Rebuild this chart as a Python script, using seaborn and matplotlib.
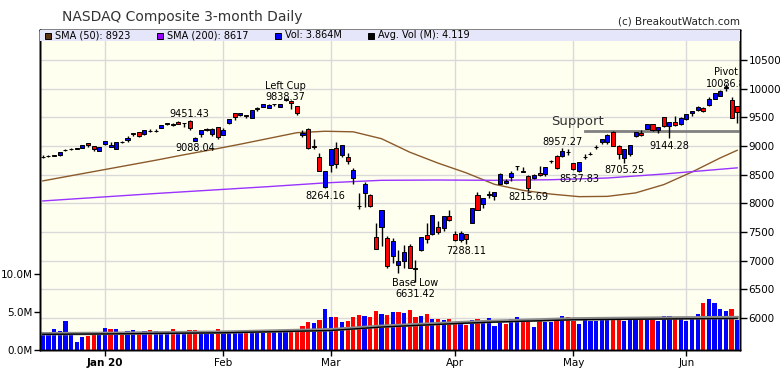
import numpy as np
import pandas as pd
import matplotlib
matplotlib.use('Agg')
import matplotlib.pyplot as plt
from matplotlib.patches import Rectangle
import seaborn as sns

# trading days shown on the chart (Dec 16 2019 - Jun 12 2020)
holidays = ['2019-12-25', '2020-01-01', '2020-01-20', '2020-02-17', '2020-04-10', '2020-05-25']
dates = pd.bdate_range('2019-12-16', '2020-06-12')
dates = dates[~dates.isin(pd.to_datetime(holidays))]

# daily OHLC of the index
opens = [8808, 8825, 8830, 8835, 8920, 8940, 8950, 8970, 9049, 9004, 8919,
         9039, 8977, 8944, 9070, 9099, 9219, 9236, 9212, 9268, 9260, 9315, 9390, 9370, 9416, 9394,
         9433, 9092, 9204, 9300, 9200, 9325,
         9187, 9405, 9575, 9538, 9532, 9484, 9661, 9684, 9660, 9725, 9679, 9797, 9788, 9701,
         9195, 9299, 9005, 8805, 8289,
         8667, 8963, 8838, 8809, 8434, 7948, 8180, 8141, 7418, 7590, 7394, 7080, 6915, 6990,
         7253, 6860, 7190, 7445, 7460, 7580, 7560, 7780,
         7460, 7360, 7460, 7660, 8140, 7980, 8145, 8120, 8340, 8350, 8460, 8650, 8545, 8480,
         8435, 8525, 8510, 8730, 8820, 8820, 8890,
         8700, 8570, 8808, 8860, 8975, 9060, 9060, 9240, 9000, 8790, 8860, 9180, 9230, 9300,
         9380, 9270, 9501, 9346, 9415, 9383,
         9470, 9580, 9633, 9658, 9704, 9823, 9867, 10012, 9792, 9701]
highs = [8833, 8837, 8848, 8887, 8950, 8956, 8957, 9023, 9052, 9006, 8973,
         9093, 9066, 9072, 9091, 9168, 9228, 9240, 9274, 9288, 9300, 9357, 9397, 9394, 9435, 9407,
         9451.43, 9161, 9277, 9317, 9304, 9331,
         9304, 9469, 9577, 9573, 9543, 9629, 9679, 9726, 9738, 9737, 9736, 9838.37, 9797, 9701,
         9280, 9319, 9124, 8880, 8567,
         8952, 9071, 9019, 8880, 8617, 8183, 8369, 8157, 7648, 7875, 7427, 7400, 7180, 7270,
         7293, 7010, 7418, 7660, 7800, 7690, 7780, 7880,
         7520, 7510, 7470, 7920, 8190, 8092, 8210, 8200, 8530, 8420, 8560, 8651, 8640, 8484,
         8512, 8650, 8640, 8760, 8833, 8957.27, 8940,
         8700, 8720, 8864, 8900, 9010, 9128, 9200, 9266, 9012, 8945, 9015, 9240, 9275, 9384,
         9390, 9325, 9505, 9413, 9523, 9505,
         9553, 9608, 9694, 9686, 9846, 9925, 9981, 10086.8, 9860, 9703]
lows = [8797, 8808, 8815, 8830, 8915, 8930, 8942, 8968, 8988, 8909, 8917,
        9010, 8972, 8943, 9043, 9070, 9166, 9150, 9182, 9235, 9240, 9305, 9361, 9340, 9383, 9326,
        9282, 9088.04, 9163, 9265, 9176, 9114,
        9186, 9384, 9454, 9513, 9486, 9484, 9611, 9678, 9655, 9696, 9676, 9790, 9651, 9536,
        9160, 8944, 8940, 8565, 8264.16,
        8551, 8606, 8800, 8680, 8340, 7896, 7943, 7941, 7194, 7263, 6880, 6955, 6780, 6880,
        6877, 6631.42, 7160, 7300, 7440, 7460, 7520, 7690,
        7340, 7330, 7288.11, 7660, 7880, 7920, 8095, 8060, 8340, 8330, 8380, 8580, 8543, 8215.69,
        8420, 8473, 8480, 8705, 8600, 8800, 8840,
        8582, 8537.83, 8780, 8834, 8950, 9040, 9040, 8995, 8763, 8705.25, 8830, 9160, 9180, 9295,
        9262, 9230, 9322, 9144.28, 9345, 9370,
        9450, 9513, 9609, 9592, 9696, 9813, 9867, 9961, 9486, 9403]
closes = [8814, 8823, 8828, 8887, 8925, 8946, 8953, 9022, 9007, 8946, 8973,
          9092, 9021, 9071, 9069, 9129, 9203, 9179, 9274, 9251, 9259, 9357, 9389, 9371, 9384, 9402,
          9315, 9139, 9270, 9275, 9299, 9151,
          9273, 9468, 9509, 9572, 9521, 9628, 9639, 9726, 9712, 9731, 9733, 9817, 9751, 9577,
          9221, 8966, 8981, 8566, 8567,
          8952, 8684, 9018, 8739, 8576, 7951, 8344, 7952, 7202, 7875, 6905, 7335, 6990, 7151,
          6880, 6861, 7418, 7384, 7798, 7502, 7774, 7700,
          7361, 7487, 7373, 7913, 7887, 8091, 8154, 8192, 8516, 8393, 8532, 8650, 8561, 8263,
          8495, 8494, 8635, 8730, 8608, 8915, 8890,
          8605, 8711, 8809, 8854, 8980, 9121, 9192, 9003, 8863, 8944, 9015, 9235, 9185, 9376,
          9285, 9325, 9340, 9412, 9369, 9490,
          9552, 9608, 9683, 9616, 9814, 9925, 9954, 10020, 9493, 9589]

# daily volume, millions of shares
volume = [2.4, 2.4, 2.8, 2.5, 3.8, 2.1, 1.1, 1.7, 1.8, 2.1,
          2.2, 2.9, 2.7, 2.8, 2.4, 2.5, 2.6, 2.4, 2.5, 2.6,
          2.5, 2.4, 2.5, 2.7, 2.5, 2.5, 2.6, 2.6, 2.3, 2.2,
          2.4, 2.7, 2.5, 2.5, 2.5, 2.3, 2.3, 2.3, 2.5, 2.4,
          2.3, 2.3, 2.3, 2.5, 2.7, 2.7, 3.2, 3.7, 3.5, 3.9,
          5.3, 4.3, 4.3, 3.7, 3.8, 4.3, 4.6, 4.4, 4.3, 5.1,
          4.7, 4.6, 4.95, 5.0, 4.8, 5.2, 4.3, 4.4, 4.7, 4.0,
          4.0, 3.9, 4.0, 3.65, 3.65, 3.3, 3.9, 4.0, 3.5, 4.2,
          3.1, 3.8, 3.4, 4.0, 4.3, 3.8, 3.8, 3.0, 3.8, 3.65,
          3.65, 3.9, 4.4, 4.3, 3.8, 3.4, 3.9, 3.8, 3.8, 4.0,
          4.3, 4.2, 4.3, 3.8, 3.9, 4.3, 4.2, 4.3, 4.0, 3.8,
          4.4, 4.4, 4.0, 4.3, 3.8, 4.0, 4.7, 6.2, 6.65, 6.2,
          5.35, 5.1, 5.35, 3.864]

# moving averages at these bar numbers
sma50_at = [0, 5, 10, 15, 20, 25, 30, 35, 40, 45, 50, 55, 60, 65, 70, 75, 80, 85, 90,
            95, 100, 105, 110, 115, 120, 123]
sma50 = [8390, 8480, 8570, 8660, 8750, 8845, 8935, 9030, 9130, 9230, 9255, 9245, 9125,
         8890, 8700, 8530, 8330, 8225, 8160, 8115, 8120, 8180, 8325, 8545, 8790, 8923]
sma200_at = [0, 10, 20, 30, 40, 50, 60, 70, 80, 90, 100, 110, 123]
sma200 = [8040, 8105, 8170, 8230, 8290, 8355, 8400, 8405, 8400, 8410, 8440, 8510, 8617]
avgvol_at = [0, 11, 32, 51, 60, 73, 80, 94, 114, 123]
avgvol = [2.05, 2.1, 2.25, 2.55, 3.0, 3.45, 3.65, 3.95, 4.08, 4.119]
avgvol_long = [2.12, 2.17, 2.33, 2.65, 3.1, 3.55, 3.75, 4.07, 4.2, 4.24]

support_level = 9266
support_from = 96

# labelled highs and lows: bar, anchor, text
ann_bar = [26, 27, 43, 50, 66, 75, 86, 92, 95, 103, 111, 121]
ann_side = ['high', 'low', 'high', 'low', 'low', 'low', 'low', 'high', 'low', 'low', 'low', 'high']
ann_text = ['9451.43', '9088.04', 'Left Cup\n9838.37', '8264.16', 'Base Low\n6631.42', '7288.11',
            '8215.69', '8957.27', '8537.83', '8705.25', '9144.28', 'Pivot\n10086.8']
ann_dy = [1, -2, -4, -3, 4, -2, -1, 1, -2, -2, -3, -5]

df = pd.DataFrame({'date': dates, 'open': opens, 'high': highs, 'low': lows,
                   'close': closes, 'volume': volume})
df['i'] = np.arange(len(df))
df['dir'] = np.where(df['close'].diff().fillna(1) > 0, 'up', 'down')
df['body_col'] = np.where(df['close'] >= df['open'], '#0000ff', '#ff0000')

W, H = 780, 376
fig = plt.figure(figsize=(W / 100, H / 100), dpi=100)
rect = [40 / W, 26 / H, 700 / W, 320 / H]
ax_g = fig.add_axes(rect)
ax_v = ax_g.twinx()
ax_p = ax_g.twinx()

plim = (5442, 11020)
price_ticks = np.arange(6000, 10501, 500)
xlim = (-0.5, len(df) - 0.5)

# background grid
ax_g.set_facecolor('#fffff0')
ax_g.set_xlim(*xlim)
ax_g.set_ylim(*plim)
ax_g.set_yticks(price_ticks)
ax_g.grid(True, color='#d9d9d9', lw=1)
ax_g.tick_params(axis='y', left=False, labelleft=False)

# month ticks
first = df.groupby([df['date'].dt.year, df['date'].dt.month])['i'].min()
first = first[first > 0]
mlabels = []
mbold = []
for (y, m), i in first.items():
    d = df['date'][i]
    if m == 1:
        mlabels.append(d.strftime('%b ') + d.strftime('%y'))
        mbold.append(True)
    else:
        mlabels.append(d.strftime('%b'))
        mbold.append(False)
ax_g.set_xticks(list(first.values))
ax_g.set_xticklabels(mlabels, fontsize=7.5)
for t, b in zip(ax_g.get_xticklabels(), mbold):
    if b:
        t.set_fontweight('bold')
ax_g.tick_params(axis='x', length=4, width=1, pad=2)

# volume panel
sns.barplot(data=df, x='i', y='volume', hue='dir', palette={'up': '#0000ff', 'down': '#ff0000'},
            native_scale=True, dodge=False, width=0.75, saturation=1, legend=False,
            linewidth=0, ax=ax_v)
sns.lineplot(x=avgvol_at, y=avgvol_long, color='#8c8c8c', lw=2.5, ax=ax_v)
sns.lineplot(x=avgvol_at, y=avgvol, color='black', lw=1, ax=ax_v)
ax_v.set_ylim(0, 320 / 7.65)
ax_v.set_xlim(*xlim)
ax_v.yaxis.set_ticks_position('left')
ax_v.set_yticks([0, 5, 10])
ax_v.set_yticklabels(['0.0M', '5.0M', '10.0M'], fontsize=7.5)
ax_v.tick_params(axis='y', length=4, width=1, pad=1)
ax_v.set_xlabel('')
ax_v.set_ylabel('')

# price panel
sns.lineplot(x=sma50_at, y=sma50, color='#8b5a2b', lw=1, ax=ax_p)
sns.lineplot(x=sma200_at, y=sma200, color='#9933ff', lw=1, ax=ax_p)
ax_p.vlines(df['i'], df['low'], df['high'], color='black', lw=1, zorder=3)
body_lo = np.minimum(df['open'], df['close'])
body_h = np.maximum((df['close'] - df['open']).abs(), 6)
ax_p.bar(df['i'], body_h, bottom=body_lo, width=0.72, color=df['body_col'],
         edgecolor='black', linewidth=0.7, zorder=4)

ax_p.plot([support_from, xlim[1]], [support_level, support_level], color='#808080', lw=2, zorder=2)
ax_p.annotate('Support', xy=(support_from, support_level), xytext=(-7, 3),
              textcoords='offset pixels', ha='center', va='bottom', fontsize=9.5, color='#333333')

for b, s, t, dy in zip(ann_bar, ann_side, ann_text, ann_dy):
    yv = df[s][b]
    ax_p.annotate(t, xy=(b, yv), xytext=(0, dy), textcoords='offset pixels', ha='center',
                  va='bottom' if s == 'high' else 'top', fontsize=7, linespacing=1.15,
                  zorder=6, annotation_clip=False, clip_on=True)

ax_p.set_xlim(*xlim)
ax_p.set_ylim(*plim)
ax_p.set_yticks(price_ticks)
ax_p.set_yticklabels([str(v) for v in price_ticks], fontsize=7.5)
ax_p.tick_params(axis='y', length=5, width=1, pad=1)
ax_p.set_xlabel('')
ax_p.set_ylabel('')

for a in (ax_g, ax_v, ax_p):
    for sp in a.spines.values():
        sp.set_color('black')
        sp.set_linewidth(1)

# legend band
band = 11 / 320
ax_p.add_patch(Rectangle((0, 1 - band), 1, band, transform=ax_p.transAxes,
                         facecolor='#e6e6fa', edgecolor='none', zorder=8))
leg_x = [45, 157, 275, 368]
leg_col = ['#5c3310', '#9900ff', '#0000ff', '#000000']
leg_txt = ['SMA (50): %d' % sma50[-1], 'SMA (200): %d' % sma200[-1],
           'Vol: %.3fM' % volume[-1], 'Avg. Vol (M): %.3f' % avgvol[-1]]
for x, c, t in zip(leg_x, leg_col, leg_txt):
    ax_p.add_patch(Rectangle(((x - 40) / 700, 1 - 9 / 320), 6 / 700, 6 / 320,
                             transform=ax_p.transAxes, facecolor=c, edgecolor='black',
                             lw=0.7, zorder=9))
    ax_p.text((x - 40 + 10) / 700, 1 - band / 2, t, transform=ax_p.transAxes,
              fontsize=7, va='center', ha='left', zorder=10)

fig.text(62 / W, 1 - 17 / H, 'NASDAQ Composite 3-month Daily', fontsize=10,
         color='#333333', va='center', ha='left')
fig.text(740 / W, 1 - 22 / H, '(c) BreakoutWatch.com', fontsize=7.5,
         color='#222222', va='center', ha='right')

fig.savefig('out.png', dpi=100, facecolor='white')
